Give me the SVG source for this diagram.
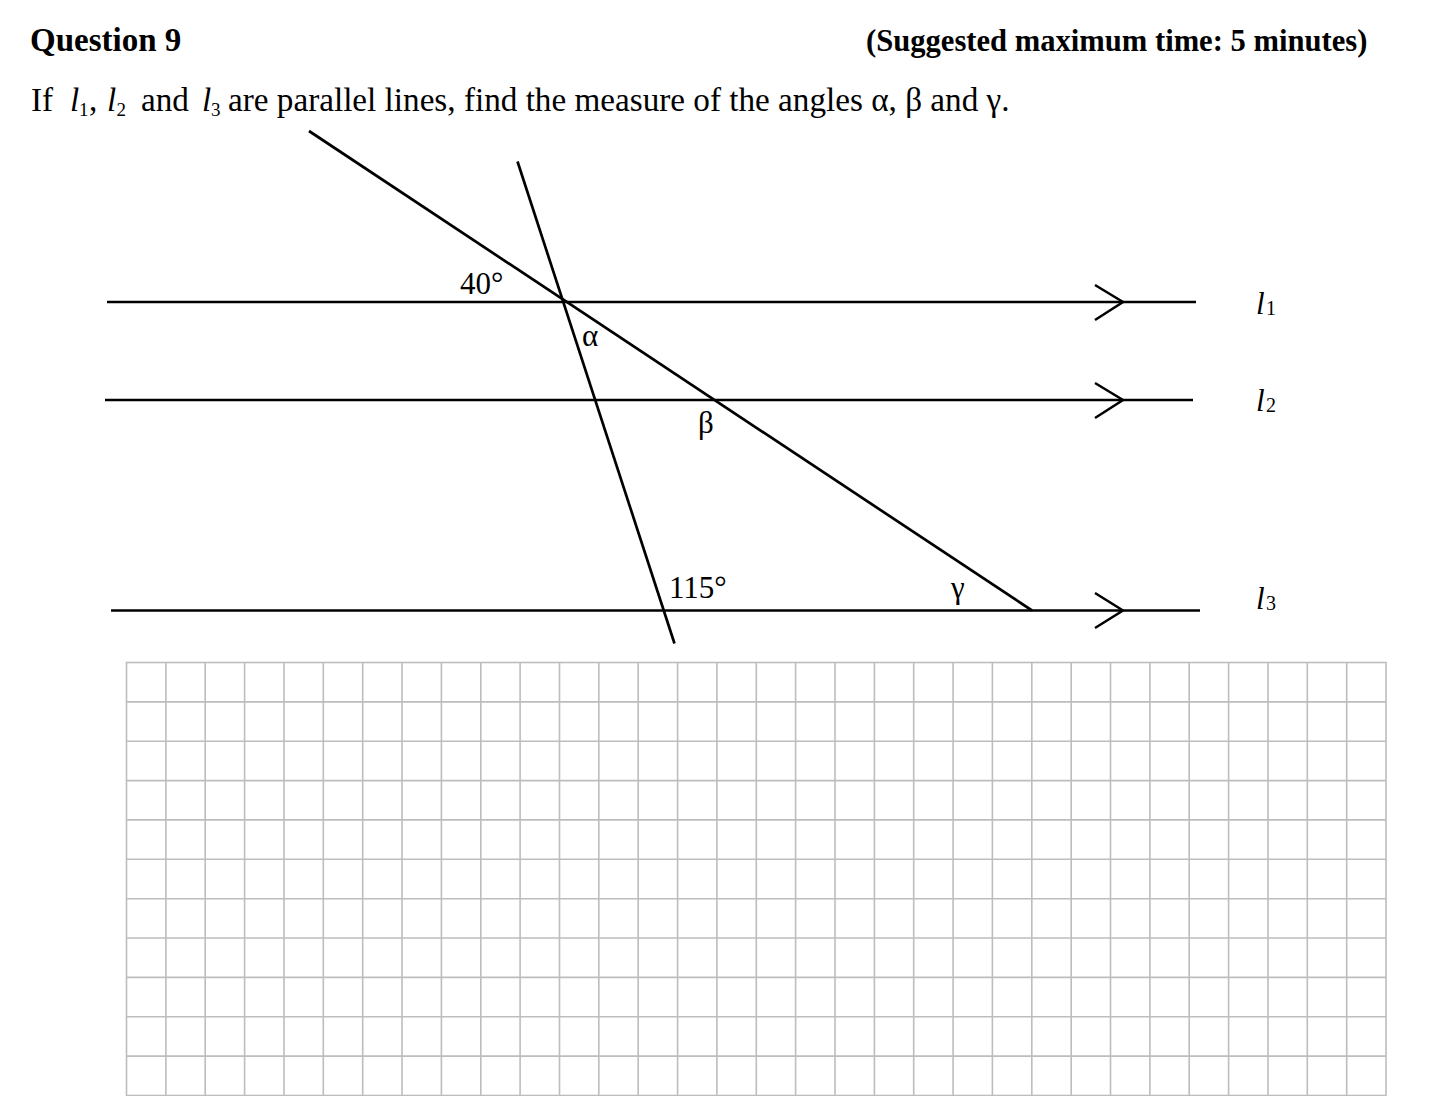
<svg xmlns="http://www.w3.org/2000/svg" width="1440" height="1096" viewBox="0 0 1440 1096">
<style>
text{font-family:"Liberation Serif","Times New Roman",serif;fill:#000}
.b{font-weight:bold}
.m{font-size:33.2px}
.i{font-style:italic}
.sub{font-size:19px}
.lbl{font-size:31px}
.ln{stroke:#000;stroke-width:2.7;fill:none;stroke-linecap:butt}
.chev{stroke:#000;stroke-width:2.5;fill:none}
.grid{stroke:#bdbdbd;stroke-width:1.6;fill:none}
</style>
<rect width="1440" height="1096" fill="#fff"/>
<g id="header">
<text class="b" x="30" y="51" font-size="33">Question 9</text>
<text class="b" x="866" y="51" font-size="30.6">(Suggested maximum time: 5 minutes)</text>
</g>
<g id="question">
<text class="m" x="31" y="111">If</text>
<text class="m i" x="70" y="111">l</text><text class="sub" x="79" y="116">1</text>
<text class="m" x="89" y="111">,</text>
<text class="m i" x="107" y="111">l</text><text class="sub" x="116.5" y="116">2</text>
<text class="m" x="141" y="111">and</text>
<text class="m i" x="202" y="111">l</text><text class="sub" x="211" y="116">3</text>
<text class="m" x="228" y="111">are parallel lines, find the measure of the angles α, β and γ.</text>
</g>
<g id="grid">
<rect class="grid" x="126.5" y="662.5" width="1259.5" height="433"/>
<path class="grid" d="M165.9 662.5V1096M205.2 662.5V1096M244.6 662.5V1096M284 662.5V1096M323.3 662.5V1096M362.7 662.5V1096M402 662.5V1096M441.4 662.5V1096M480.8 662.5V1096M520.1 662.5V1096M559.5 662.5V1096M598.8 662.5V1096M638.2 662.5V1096M677.6 662.5V1096M716.9 662.5V1096M756.3 662.5V1096M795.6 662.5V1096M835 662.5V1096M874.4 662.5V1096M913.7 662.5V1096M953.1 662.5V1096M992.4 662.5V1096M1031.8 662.5V1096M1071.2 662.5V1096M1110.5 662.5V1096M1149.9 662.5V1096M1189.2 662.5V1096M1228.6 662.5V1096M1268 662.5V1096M1307.3 662.5V1096M1346.7 662.5V1096M126.5 701.9H1386M126.5 741.2H1386M126.5 780.6H1386M126.5 819.9H1386M126.5 859.3H1386M126.5 898.7H1386M126.5 938H1386M126.5 977.4H1386M126.5 1016.7H1386M126.5 1056.1H1386"/>
</g>
<g id="l1">
<line class="ln" x1="107" y1="302" x2="1196" y2="302"/>
<path class="chev" d="M1095 285L1123 302L1095 320"/>
<text class="i" x="1256" y="314" font-size="31">l</text><text x="1266" y="315" font-size="20">1</text>
</g>
<g id="l2">
<line class="ln" x1="105" y1="400" x2="1193" y2="400"/>
<path class="chev" d="M1095 383L1123 400L1095 418"/>
<text class="i" x="1256" y="411" font-size="31">l</text><text x="1266" y="412" font-size="20">2</text>
</g>
<g id="l3">
<line class="ln" x1="111" y1="610.5" x2="1200" y2="610.5"/>
<path class="chev" d="M1095 593L1123 610.5L1095 628"/>
<text class="i" x="1256" y="609" font-size="31">l</text><text x="1266" y="610" font-size="20">3</text>
</g>
<g id="transversals">
<line class="ln" x1="517.5" y1="161.5" x2="674.5" y2="643.5"/>
<line class="ln" x1="309" y1="131" x2="1032" y2="610.5"/>
</g>
<g id="labels">
<text class="lbl" x="460" y="294">40°</text>
<text class="lbl" x="582" y="346">α</text>
<text class="lbl" x="698" y="433">β</text>
<text class="lbl" x="669" y="598">115°</text>
<text class="lbl" x="951" y="598">γ</text>
</g>
</svg>
